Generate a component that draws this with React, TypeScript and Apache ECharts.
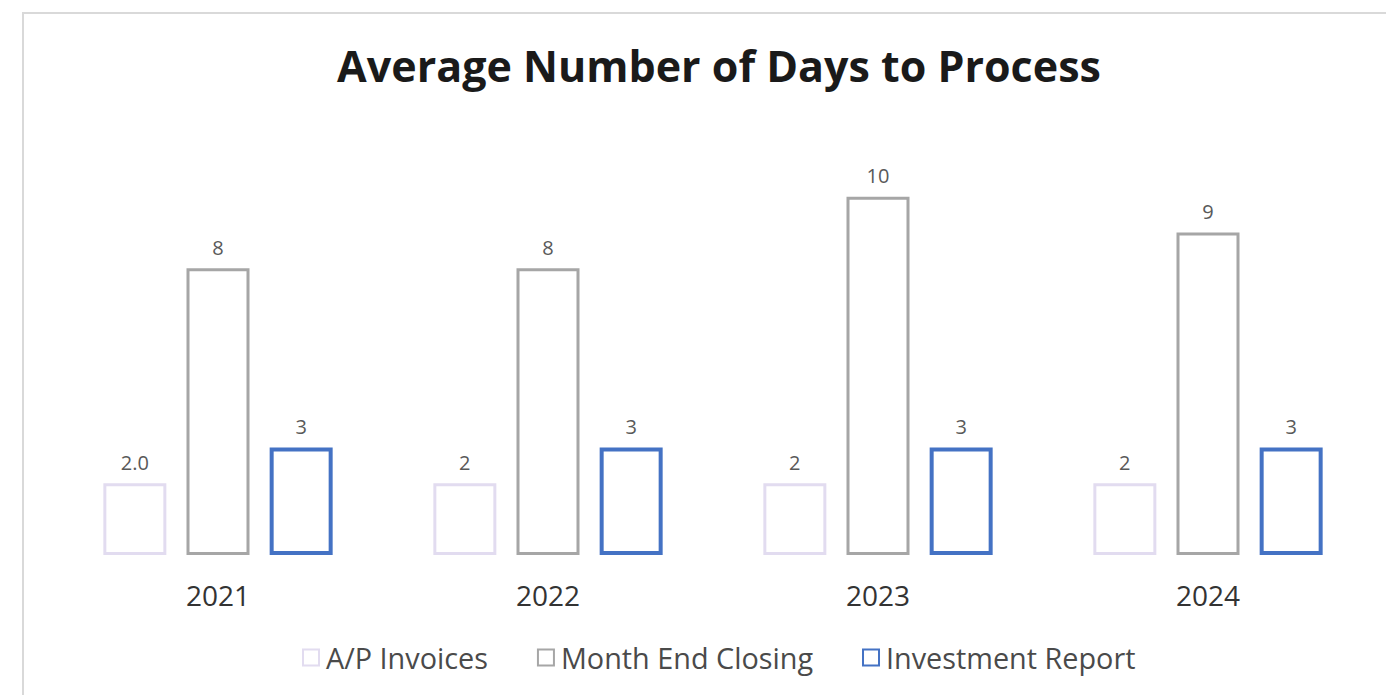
import React, { useEffect, useRef } from "react";
import * as echarts from "echarts";

const categories = ["2021", "2022", "2023", "2024"];
const apInvoices = [2, 2, 2, 2];
const monthEndClosing = [8, 8, 10, 9];
const investmentReport = [3, 3, 3, 3];
const apLabels = ["2.0", "2", "2", "2"];

export default function App() {
  const ref = useRef<HTMLDivElement>(null);
  useEffect(() => {
    const chart = echarts.init(ref.current!, undefined, { renderer: "svg" });
    const font = "'Open Sans', 'Noto Sans', sans-serif";
    const mk = (name: string, data: number[], color: string, bw: number, labels?: string[]) => ({
      name,
      type: "bar",
      data,
      barWidth: 63,
      barGap: "32%",
      itemStyle: { color: "#ffffff", borderColor: color, borderWidth: bw },
      label: {
        show: true,
        position: "top",
        distance: 11,
        color: "#595959",
        fontSize: 20,
        fontFamily: font,
        formatter: (p: any) => (labels ? labels[p.dataIndex] : String(p.value)),
      },
    });
    chart.setOption({
      animation: false,
      backgroundColor: "#ffffff",
      title: {
        text: "Average Number of Days to Process",
        left: 714,
        textAlign: "center",
        top: 39,
        textStyle: { fontFamily: font, fontWeight: "bold", fontSize: 43, color: "#1a1a1a" },
      },
      graphic: [
        {
          type: "rect",
          shape: { x: 23, y: 13, width: 1500, height: 800 },
          style: { fill: "none", stroke: "#d9d9d9", lineWidth: 2 },
          silent: true,
        },
      ],
      legend: {
        top: 638,
        left: 297,
        itemWidth: 16,
        itemHeight: 16,
        itemGap: 49,
        icon: "rect",
        textStyle: { fontFamily: font, fontSize: 28.8, color: "#4a4a4a", padding: [0, 0, 0, 2] },
        data: ["A/P Invoices", "Month End Closing", "Investment Report"],
      },
      grid: { left: 53, right: 13, top: 125, bottom: 140 },
      xAxis: {
        type: "category",
        data: categories,
        axisLine: { show: false },
        axisTick: { show: false },
        axisLabel: { color: "#333333", fontSize: 28, fontFamily: font, margin: 26 },
      },
      yAxis: {
        type: "value",
        min: 0,
        max: 12,
        show: false,
        splitLine: { show: false },
      },
      series: [
        mk("A/P Invoices", apInvoices, "#e2dcf0", 3, apLabels),
        mk("Month End Closing", monthEndClosing, "#a6a6a6", 3),
        mk("Investment Report", investmentReport, "#4472c4", 4),
      ],
    });
    return () => chart.dispose();
  }, []);
  return (
    <div
      ref={ref}
      style={{ position: "fixed", left: 0, top: 0, width: 1386, height: 695 }}
    />
  );
}
